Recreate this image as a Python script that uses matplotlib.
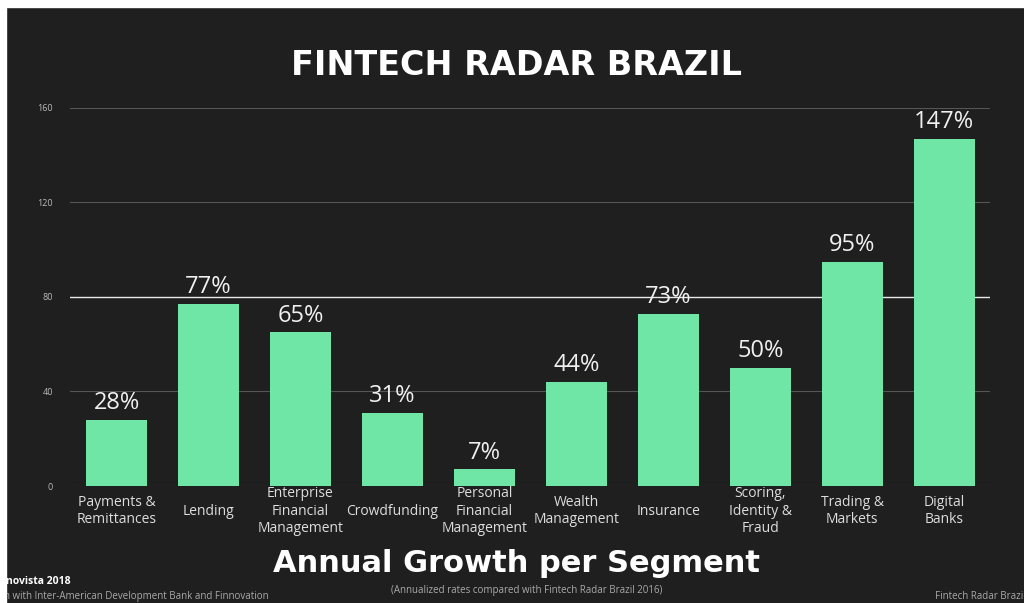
import matplotlib
matplotlib.use("Agg")
import matplotlib.pyplot as plt
from matplotlib.patches import Rectangle

# chart data
segments = ["Payments &\nRemittances", "Lending", "Enterprise\nFinancial\nManagement",
            "Crowdfunding", "Personal\nFinancial\nManagement", "Wealth\nManagement",
            "Insurance", "Scoring,\nIdentity &\nFraud", "Trading &\nMarkets", "Digital\nBanks"]
growth = [28, 77, 65, 31, 7, 44, 73, 50, 95, 147]
y_ticks = [0, 40, 80, 120, 160]

# style constants
BG = "#1f1f1f"
BAR_COLOR = "#70e6a6"
TEXT_COLOR = "#f0f0f0"
GRID_COLOR = "#555555"
FONT = ["Open Sans", "DejaVu Sans"]
HEAD_FONT = ["DejaVu Sans"]

fig = plt.figure(figsize=(10.24, 6.03), dpi=100, facecolor=BG)
ax = fig.add_axes([0.068, 0.194, 0.899, 0.627], facecolor=BG)

x = range(len(segments))
ax.bar(x, growth, width=0.66, color=BAR_COLOR, zorder=3)

for xi, g in zip(x, growth):
    ax.text(xi, g + 2.0, f"{g}%", ha="center", va="bottom", color=TEXT_COLOR,
            fontsize=17, family=FONT, zorder=4)

ax.set_xlim(-0.51, 9.5)
ax.set_ylim(0, 160)
ax.set_yticks(y_ticks)
ax.set_yticklabels([str(t) for t in y_ticks], fontsize=6.5, color="#bbbbbb", family=FONT)
ax.set_xticks(list(x))
ax.set_xticklabels(segments, fontsize=10, color="#dddddd", family=FONT, linespacing=1.2)
ax.tick_params(axis="both", length=0)
ax.tick_params(axis="x", pad=18)
ax.tick_params(axis="y", pad=12)
# labels in the reference are centred vertically under each bar
for lbl in ax.get_xticklabels():
    lbl.set_verticalalignment("center")
for t in y_ticks:
    ax.axhline(t, color="#e8e8e8" if t == 80 else GRID_COLOR, lw=1.0 if t == 80 else 0.8, zorder=1)
for sp in ax.spines.values():
    sp.set_visible(False)

# titles and footer
fig.text(0.504, 0.892, "FINTECH RADAR BRAZIL", ha="center", va="center", color="white",
         fontsize=24, fontweight="bold", family=HEAD_FONT)
fig.text(0.504, 0.066, "Annual Growth per Segment", ha="center", va="center", color="white",
         fontsize=22, fontweight="bold", family=HEAD_FONT)
fig.text(0.514, 0.02, "(Annualized rates compared with Fintech Radar Brazil 2016)", ha="center",
         va="center", color="#aaaaaa", fontsize=7, family=FONT)
fig.text(0.006, 0.035, "novista 2018", ha="left", va="center", color="white",
         fontsize=7.5, fontweight="bold", family=FONT)
fig.text(0.004, 0.002, "n with Inter-American Development Bank and Finnovation", ha="left",
         va="bottom", color="#aaaaaa", fontsize=7, family=FONT)
fig.text(0.913, 0.002, "Fintech Radar Brazil", ha="left", va="bottom", color="#aaaaaa",
         fontsize=7, family=FONT)

# white frame at top and left edge of screenshot
fig.patches.append(Rectangle((0, 0.988), 1, 0.012, transform=fig.transFigure, color="white", zorder=10))
fig.patches.append(Rectangle((0, 0), 0.006, 1, transform=fig.transFigure, color="white", zorder=10))

fig.savefig("out.png", dpi=100, facecolor=BG)
